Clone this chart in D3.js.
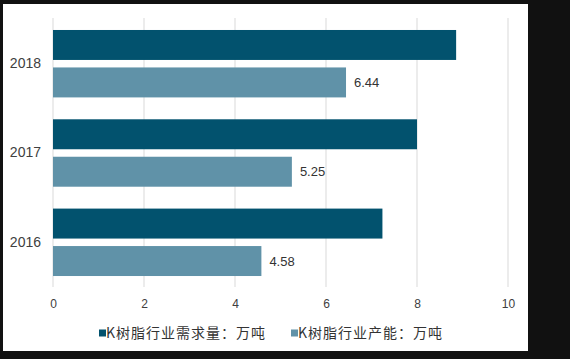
<!DOCTYPE html>
<html><head><meta charset="utf-8">
<script src="https://cdn.jsdelivr.net/npm/d3@7/dist/d3.min.js"></script>
<style>
html,body{margin:0;padding:0;background:#111111;}
svg{display:block;}
</style></head>
<body>
<script>
const categories = ["2018", "2017", "2016"];
const demand = [8.86, 8.0, 7.24];
const capacity = [6.44, 5.25, 4.58];
const seriesNames = ["K树脂行业需求量：万吨", "K树脂行业产能：万吨"];
const xTicks = [0, 2, 4, 6, 8, 10];
const colors = ["#02526e", "#6092a8"];

const W = 570, H = 359;
const svg = d3.select("body").append("svg").attr("width", W).attr("height", H);
svg.append("rect").attr("width", W).attr("height", H).attr("fill", "#111111");
svg.append("rect").attr("x", 3).attr("y", 4).attr("width", 525).attr("height", 347).attr("fill", "#ffffff");

const x = d3.scaleLinear().domain([0, 10]).range([53, 508]);
const y = d3.scaleBand().domain(categories).range([19, 287]).paddingInner(0.245).paddingOuter(0.123);
const sub = d3.scaleBand().domain([0, 1]).range([0, y.bandwidth()]).paddingInner(0.2);

// gridlines
svg.append("g").selectAll("line").data(xTicks).join("line")
  .attr("x1", d => x(d)).attr("x2", d => x(d))
  .attr("y1", 18).attr("y2", 287)
  .attr("stroke", "#d9d9d9").attr("stroke-width", 1);

const groups = svg.append("g").selectAll("g").data(categories).join("g")
  .attr("transform", d => `translate(0,${y(d)})`);

groups.append("rect")
  .attr("x", x(0)).attr("y", sub(0))
  .attr("width", (d, i) => x(demand[i]) - x(0)).attr("height", sub.bandwidth())
  .attr("fill", colors[0]);
groups.append("rect")
  .attr("x", x(0)).attr("y", sub(1))
  .attr("width", (d, i) => x(capacity[i]) - x(0)).attr("height", sub.bandwidth())
  .attr("fill", colors[1]);
groups.append("text")
  .attr("x", (d, i) => x(capacity[i]) + 8).attr("y", sub(1) + sub.bandwidth() / 2)
  .attr("dy", "0.35em")
  .attr("font-family", "'Liberation Sans', Arial, sans-serif").attr("font-size", 13)
  .attr("fill", "#333333")
  .text((d, i) => capacity[i].toFixed(2));

// y axis labels
const yAxis = d3.axisLeft(y).tickSize(0).tickPadding(0);
const ya = svg.append("g").attr("transform", "translate(41,0)").call(yAxis);
ya.select(".domain").remove();
ya.selectAll("text").attr("font-family", "'Liberation Sans', Arial, sans-serif").attr("font-size", 14).attr("fill", "#404040");

// x axis labels
const xAxis = d3.axisBottom(x).tickValues(xTicks).tickSize(0).tickPadding(0).tickFormat(d3.format("d"));
const xa = svg.append("g").attr("transform", "translate(0,299)").call(xAxis);
xa.select(".domain").remove();
xa.selectAll("text").attr("font-family", "'Liberation Sans', Arial, sans-serif").attr("font-size", 12).attr("fill", "#404040");

// legend
const legX = [99, 291];
const leg = svg.append("g").selectAll("g").data(seriesNames).join("g")
  .attr("transform", (d, i) => `translate(${legX[i]},333)`);
leg.append("rect").attr("x", 0).attr("y", -3.5).attr("width", 7).attr("height", 7)
  .attr("fill", (d, i) => colors[i]);
leg.append("text").attr("x", 7).attr("y", 0).attr("dy", "0.36em")
  .attr("font-family", "'Noto Sans CJK SC', sans-serif").attr("font-size", 14)
  .attr("letter-spacing", 1)
  .attr("fill", "#333333").text(d => d);
</script>
</body></html>
